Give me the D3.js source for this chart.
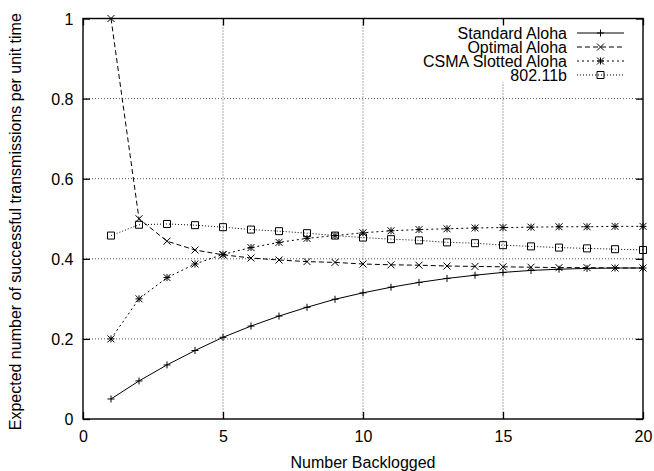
<!DOCTYPE html>
<html>
<head>
<meta charset="utf-8">
<script src="https://cdn.jsdelivr.net/npm/d3@7"></script>
<style>
  html, body { margin: 0; padding: 0; background: #fff; }
  svg { display: block; }
  text { font-family: "Liberation Sans", Arial, Helvetica, sans-serif; fill: #000; }
</style>
</head>
<body>
<svg id="chart" width="654" height="471"></svg>
<script>
// Number of backlogged stations (x) and throughput per protocol (y)
const backlogged = [1, 2, 3, 4, 5, 6, 7, 8, 9, 10, 11, 12, 13, 14, 15, 16, 17, 18, 19, 20];
const standardAloha = [0.050, 0.095, 0.135, 0.171, 0.204, 0.232, 0.257, 0.279, 0.299, 0.315,
                       0.329, 0.341, 0.351, 0.359, 0.366, 0.371, 0.374, 0.376, 0.377, 0.377];
const optimalAloha = [1.000, 0.500, 0.444, 0.422, 0.410, 0.402, 0.397, 0.393, 0.391, 0.387,
                      0.385, 0.384, 0.382, 0.381, 0.380, 0.379, 0.378, 0.378, 0.377, 0.377];
const csmaSlottedAloha = [0.200, 0.300, 0.353, 0.387, 0.411, 0.428, 0.441, 0.451, 0.458, 0.465,
                          0.470, 0.473, 0.475, 0.477, 0.478, 0.479, 0.480, 0.480, 0.481, 0.481];
const dot11b = [0.458, 0.485, 0.487, 0.484, 0.479, 0.473, 0.469, 0.464, 0.458, 0.453,
                0.449, 0.446, 0.441, 0.439, 0.434, 0.431, 0.428, 0.426, 0.424, 0.422];
const seriesNames = ["Standard Aloha", "Optimal Aloha", "CSMA Slotted Aloha", "802.11b"];
const xTicks = [0, 5, 10, 15, 20];
const yTicks = [0, 0.2, 0.4, 0.6, 0.8, 1];
const xTitle = "Number Backlogged";
const yTitle = "Expected number of successful transmissions per unit time";

const fontSize = 16;
const svg = d3.select("#chart");
const pL = 83, pR = 643, pT = 18.5, pB = 419;

const x = d3.scaleLinear().domain([0, 20]).range([pL, pR]);
const y = d3.scaleLinear().domain([0, 1]).range([pB, pT]);

// grid
const grid = svg.append("g").attr("stroke", "#555").attr("stroke-width", 1)
  .attr("stroke-dasharray", "1,2").attr("fill", "none");
xTicks.filter(t => t > 0 && t < 20).forEach(t => {
  grid.append("line").attr("x1", x(t)).attr("x2", x(t)).attr("y1", pT).attr("y2", pB);
});
yTicks.filter(t => t > 0 && t < 1).forEach(t => {
  grid.append("line").attr("x1", pL).attr("x2", pR).attr("y1", y(t)).attr("y2", y(t));
});

// legend backdrop keeps grid lines out of the key
const legendX = 567, legendY0 = 33, legendDy = 14;
svg.append("rect").attr("x", 440).attr("y", 24).attr("width", 198).attr("height", 58).attr("fill", "#fff");

// axes: ticks on all four sides pointing inward
const tickLen = 7;
const axisBottom = d3.axisBottom(x).tickValues(xTicks).tickFormat(d => String(d)).tickSizeInner(-tickLen).tickSizeOuter(0);
const axisLeft = d3.axisLeft(y).tickValues(yTicks).tickFormat(d => String(d)).tickSizeInner(-tickLen).tickSizeOuter(0);
const axisTop = d3.axisTop(x).tickValues(xTicks).tickFormat("").tickSizeInner(-tickLen).tickSizeOuter(0);
const axisRight = d3.axisRight(y).tickValues(yTicks).tickFormat("").tickSizeInner(-tickLen).tickSizeOuter(0);

function styleAxis(g) {
  g.select(".domain").remove();
  g.selectAll(".tick line").attr("stroke", "#000").attr("stroke-width", 1.3);
  g.selectAll(".tick text").attr("font-size", fontSize).attr("font-family", "Liberation Sans, Arial, sans-serif").attr("fill", "#000");
}
svg.append("g").attr("transform", `translate(0,${pB})`).call(axisBottom).call(styleAxis)
  .selectAll(".tick text").attr("dy", null).attr("y", 22.5);
svg.append("g").attr("transform", `translate(${pL},0)`).call(axisLeft).call(styleAxis)
  .selectAll(".tick text").attr("x", -9.5).attr("dy", "0.35em");
svg.append("g").attr("transform", `translate(0,${pT})`).call(axisTop).call(styleAxis);
svg.append("g").attr("transform", `translate(${pR},0)`).call(axisRight).call(styleAxis);

// frame
svg.append("rect").attr("x", pL).attr("y", pT).attr("width", pR - pL).attr("height", pB - pT)
  .attr("fill", "none").attr("stroke", "#000").attr("stroke-width", 1.4);

// axis titles
svg.append("text").attr("x", (pL + pR) / 2).attr("y", 467.5).attr("text-anchor", "middle")
  .attr("font-size", fontSize).text(xTitle);
svg.append("text").attr("transform", `translate(21,${(pT + pB) / 2 + 3}) rotate(-90)`)
  .attr("text-anchor", "middle").attr("font-size", fontSize).text(yTitle);

// point markers
function drawMarker(g, kind, cx, cy) {
  const s = 3.5;
  const p = d3.path();
  if (kind === "plus" || kind === "star") {
    p.moveTo(cx - s, cy); p.lineTo(cx + s, cy);
    p.moveTo(cx, cy - s); p.lineTo(cx, cy + s);
  }
  if (kind === "cross" || kind === "star") {
    p.moveTo(cx - s, cy - s); p.lineTo(cx + s, cy + s);
    p.moveTo(cx - s, cy + s); p.lineTo(cx + s, cy - s);
  }
  if (kind === "square") {
    p.rect(cx - s, cy - s, 2 * s, 2 * s);
  }
  g.append("path").attr("d", p.toString()).attr("fill", "none").attr("stroke", "#000").attr("stroke-width", 1);
}

const series = [
  { name: seriesNames[0], values: standardAloha, dash: null, marker: "plus" },
  { name: seriesNames[1], values: optimalAloha, dash: "5,3", marker: "cross" },
  { name: seriesNames[2], values: csmaSlottedAloha, dash: "2,3", marker: "star" },
  { name: seriesNames[3], values: dot11b, dash: "1,2", marker: "square" }
];

const line = d3.line().x(d => x(d[0])).y(d => y(d[1]));
const plot = svg.append("g");
series.forEach(s => {
  const pts = backlogged.map((n, i) => [n, s.values[i]]);
  plot.append("path").attr("d", line(pts)).attr("fill", "none").attr("stroke", "#000")
    .attr("stroke-width", 1).attr("stroke-dasharray", s.dash);
  const mg = plot.append("g");
  pts.forEach(pt => drawMarker(mg, s.marker, x(pt[0]), y(pt[1])));
});

// key
series.forEach((s, i) => {
  const yy = legendY0 + i * legendDy;
  svg.append("text").attr("x", legendX).attr("y", yy).attr("dy", "0.35em")
    .attr("text-anchor", "end").attr("font-size", fontSize).text(s.name);
  svg.append("line").attr("x1", 577).attr("x2", 624).attr("y1", yy).attr("y2", yy)
    .attr("stroke", "#000").attr("stroke-width", 1).attr("stroke-dasharray", s.dash);
  const mg = svg.append("g");
  drawMarker(mg, s.marker, 600.5, yy);
});
</script>
</body>
</html>
